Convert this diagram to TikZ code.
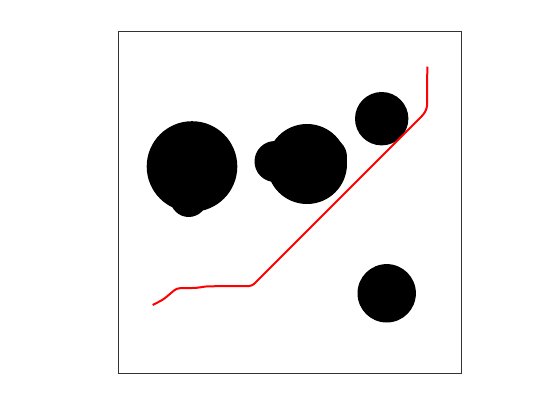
\documentclass[tikz,border=0pt]{standalone}
\usetikzlibrary{positioning}

\begin{document}
\begin{tikzpicture}[
      x=1pt, y=-1pt,
      axesbox/.style={draw=black!80, line width=0.6pt},
      obstacle/.style={fill=black},
      route/.style={draw=red, line width=2pt, rounded corners=3pt, line join=round}
    ]

    \useasboundingbox (0,0) rectangle (560,420);

    % Axes
    \draw[axesbox] (118.5,31.5) rectangle (461.5,373.5);

    % Obstacles
    \fill[obstacle] (192,166.5) circle (45.3);
    \fill[obstacle] (188.7,198.5) circle (18.5);
    \fill[obstacle] (307,164) circle (40);
    \fill[obstacle] (275,161.5) circle (20.5);
    \fill[obstacle] (327,157) circle (20);
    \fill[obstacle] (381.7,118.7) circle (26.7);
    \fill[obstacle] (386.7,293.3) circle (29.2);

    % Planned path
    \coordinate (start) at (152.7,305);
    \coordinate (goal) at (427.3,66.7);
    \draw[route] (start) -- (163.3,299.5) -- (176.7,288.3) -- (196.7,287.9)
      -- (206.7,286.3) -- (252,286) -- (423.5,114.5) -- (427,108.3) -- (goal);

  \end{tikzpicture}
\end{document}
